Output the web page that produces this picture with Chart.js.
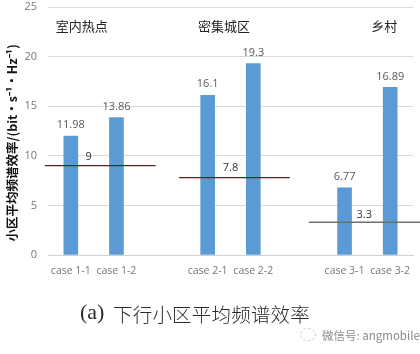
<!DOCTYPE html>
<html>
<head>
<meta charset="utf-8">
<script src="https://cdn.jsdelivr.net/npm/chart.js@4"></script>
<style>
  html, body { margin: 0; padding: 0; background: #fff; }
  #wrap { position: relative; width: 420px; height: 354px; overflow: hidden; }
  canvas { position: absolute; left: 0; top: 0; }
  #caption { position: absolute; left: 0; width: 420px; top: 299px; text-align: left; color: #2a2a2a; white-space: nowrap; }
  #caption .a { font-family: "Liberation Serif", serif; font-size: 22px; position: absolute; left: 80px; top: 0; }
  #caption .zh { font-family: "Noto Sans CJK SC", sans-serif; font-weight: 300; font-size: 19.5px; position: absolute; left: 113px; top: 0px; letter-spacing: 0.2px; }
  #wm { position: absolute; left: 300px; top: 327px; font-family: "Noto Sans CJK SC", sans-serif; font-size: 11.5px; color: #8a8a8a; white-space: nowrap; }
  #wm .ic { display: inline-block; width: 14px; height: 11px; margin-right: 6px; vertical-align: -1px; border: 1px dashed #c8c8c8; border-radius: 50%; }
</style>
</head>
<body>
<div id="wrap">
  <canvas id="c" width="420" height="354"></canvas>
  <div id="caption"><span class="a">(a)</span><span class="zh">下行小区平均频谱效率</span></div>
  <div id="wm"><span class="ic"></span>微信号: angmobile</div>
</div>
<script>
// ---- data ----
const categories = ['case 1-1', 'case 1-2', '', 'case 2-1', 'case 2-2', '', 'case 3-1', 'case 3-2'];
const efficiency = [11.98, 13.86, null, 16.1, 19.3, null, 6.77, 16.89];
const valueLabels = ['11.98', '13.86', '', '16.1', '19.3', '', '6.77', '16.89'];
const groupNames = ['室内热点', '密集城区', '乡村'];
const thresholdValues = [9, 7.8, 3.3];
const thresholdLabels = ['9', '7.8', '3.3'];
const yTicks = [0, 5, 10, 15, 20, 25];
const yTitle = '小区平均频谱效率/(bit·s⁻¹·Hz⁻¹)';

// ---- placement (in axis units) ----
const thresholdSpans = [[-0.57, 1.86], [2.37, 4.80], [5.22, 7.75]];
const thresholdColors = ['#5e2222', '#5e2222', '#6f6f6f'];
const thresholdLabelPos = [[0.39, 9.88], [3.5, 8.8], [6.43, 4.0]];
const groupLabelPos = [[0.24, 23.1], [3.36, 23.1], [6.87, 23.1]];
const yTitleCenter = 11.3; // y value at the middle of the axis title

const barPoints = [];
efficiency.forEach((v, i) => { if (v != null) barPoints.push({x: i, y: v, label: valueLabels[i]}); });

const lineDatasets = thresholdValues.map((v, i) => ({
  type: 'line',
  data: [{x: thresholdSpans[i][0], y: v}, {x: thresholdSpans[i][1], y: v}],
  borderColor: thresholdColors[i],
  borderWidth: 1.3,
  pointRadius: 0,
  clip: false,
  order: 0
}));

const textPlugin = {
  id: 'texts',
  afterDatasetsDraw(chart) {
    const ctx = chart.ctx;
    const x = chart.scales.x, y = chart.scales.y;
    ctx.save();
    ctx.textAlign = 'center';
    ctx.textBaseline = 'middle';
    ctx.font = '11px "Open Sans", "DejaVu Sans", sans-serif';
    ctx.fillStyle = '#595959';
    const meta = chart.getDatasetMeta(0);
    meta.data.forEach((el, i) => {
      ctx.fillText(barPoints[i].label, el.x, el.y - 11);
    });
    ctx.fillStyle = '#333';
    thresholdLabels.forEach((t, i) => {
      ctx.fillText(t, x.getPixelForValue(thresholdLabelPos[i][0]), y.getPixelForValue(thresholdLabelPos[i][1]));
    });
    ctx.font = '13px "Noto Sans CJK SC", sans-serif';
    ctx.fillStyle = '#222';
    groupNames.forEach((g, i) => {
      ctx.fillText(g, x.getPixelForValue(groupLabelPos[i][0]), y.getPixelForValue(groupLabelPos[i][1]));
    });
    // y axis title
    ctx.translate(12, y.getPixelForValue(yTitleCenter));
    ctx.rotate(-Math.PI / 2);
    ctx.font = 'bold 12.5px "Noto Sans CJK SC", sans-serif';
    ctx.fillStyle = '#111';
    ctx.fillText(yTitle, 0, 0);
    ctx.restore();
  }
};

new Chart(document.getElementById('c'), {
  data: {
    datasets: [{
      type: 'bar',
      data: barPoints,
      backgroundColor: '#5b9bd5',
      barThickness: 14,
      order: 1
    }, ...lineDatasets]
  },
  options: {
    responsive: false,
    animation: false,
    events: [],
    parsing: { xAxisKey: 'x', yAxisKey: 'y' },
    layout: { padding: { top: 7, right: 7, left: 0, bottom: 0 } },
    plugins: { legend: { display: false }, tooltip: { enabled: false } },
    scales: {
      x: {
        type: 'linear',
        min: -0.5,
        max: 7.5,
        offset: false,
        afterBuildTicks(s) { s.ticks = categories.map((c, i) => ({value: i})).filter((t) => categories[t.value] !== ''); },
        grid: { display: false, drawTicks: false },
        border: { color: '#d0d0d0' },
        ticks: {
          color: '#777',
          font: { size: 10.5, family: '"Open Sans", "DejaVu Sans", sans-serif' },
          padding: 10, maxRotation: 0, autoSkip: false,
          callback: (v) => categories[v]
        },
        afterFit(s) { s.height = 99; s.paddingLeft = 0; s.paddingRight = 0; }
      },
      y: {
        type: 'linear',
        min: 0,
        max: 25,
        afterBuildTicks(s) { s.ticks = yTicks.map(v => ({value: v})); },
        grid: { color: '#d9d9d9', drawTicks: false },
        border: { display: false },
        ticks: { color: '#777', font: { size: 11, family: '"Open Sans", "DejaVu Sans", sans-serif' }, padding: 11 },
        title: { display: false },
        afterFit(s) { s.width = 48; s.paddingTop = 0; s.paddingBottom = 0; }
      }
    }
  },
  plugins: [textPlugin]
});
</script>
</body>
</html>
